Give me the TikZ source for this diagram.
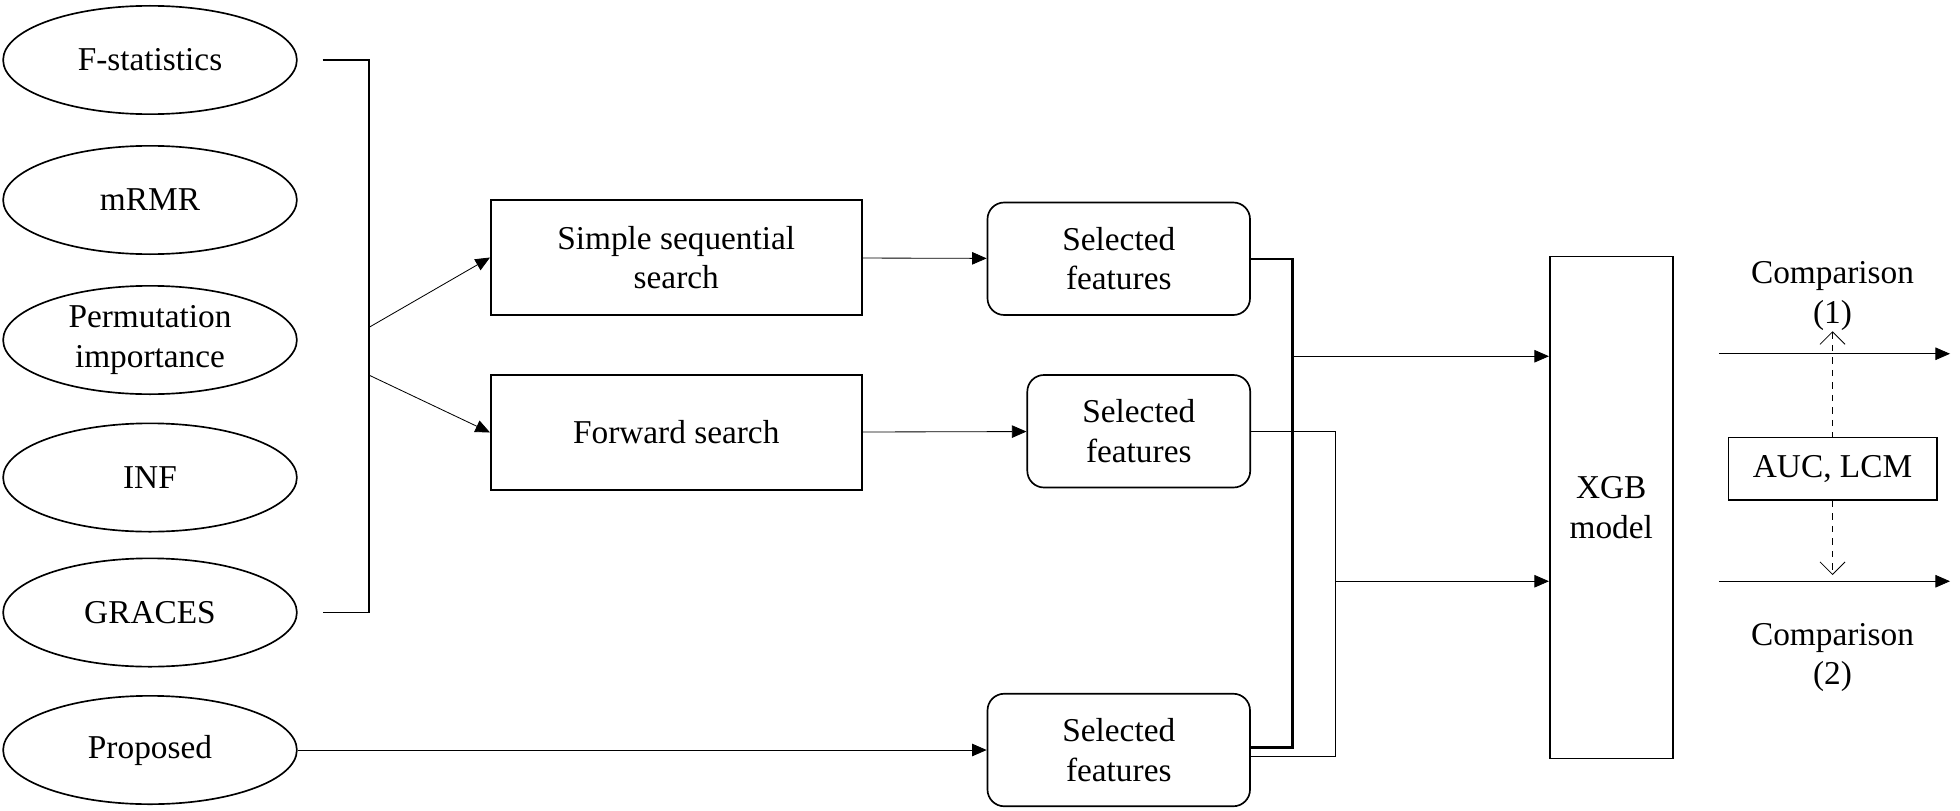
\documentclass[tikz,border=0pt]{standalone}
\usepackage{fontspec}
\setmainfont{Liberation Serif}
\usetikzlibrary{arrows.meta,positioning,shapes.geometric,calc}

\begin{document}
\begin{tikzpicture}[x=0.6pt,y=-0.6pt,font=\fontsize{16}{19}\selectfont]

\tikzstyle{method} = [draw, thick, ellipse, minimum width=141pt, minimum height=52pt, align=center, inner sep=0pt]
\tikzstyle{search} = [draw, thick, rectangle, minimum width=178pt, minimum height=55pt, align=center]
\tikzstyle{selected} = [draw, thick, rectangle, rounded corners=8pt, minimum height=54pt, align=center]
\tikzstyle{link} = [-{Triangle[length=7pt,width=6pt]}]

\useasboundingbox (0,0) rectangle (1568,648);

% feature ranking methods
\node[method] (fstat) at (120,48) {F-statistics};
\node[method] (mrmr) at (120,160) {mRMR};
\node[method] (perm) at (120,272) {Permutation\\importance};
\node[method] (inf) at (120,382) {INF};
\node[method] (graces) at (120,490) {GRACES};
\node[method] (proposed) at (120,600) {Proposed};

% search strategies
\node[search] (sss) at (541,206) {Simple sequential\\search};
\node[search] (fwd) at (541,346) {Forward search};

\node[selected, minimum width=126pt] (sel1) at (895,207) {Selected\\features};
\node[selected, minimum width=107pt] (sel2) at (911,345) {Selected\\features};
\node[selected, minimum width=126pt] (sel3) at (895,600) {Selected\\features};

\node[draw, thick, minimum width=59pt, minimum height=241pt, align=center] (xgb) at (1289,406) {XGB\\model};
\node[draw, thick, minimum width=100pt, minimum height=30pt, fill=white] (auc) at (1466,375) {AUC, LCM};

\coordinate (brtop) at (295,48);
\coordinate (brbot) at (295,490);
\coordinate (brA) at (295,262);
\coordinate (brB) at (295,300);
\coordinate (j1) at (1034,285);
\coordinate (j2) at (1068,465);
\coordinate (out1) at (1560,283);
\coordinate (out2) at (1560,465);

% bracket over the methods
\draw[thick] ($(fstat.east)+(20,0)$) -- (brtop) -- (brbot) -- ($(graces.east)+(20,0)$);
\draw[link] (brA) -- (sss.west);
\draw[link] (brB) -- (fwd.west);
\draw[link] (sss) -- (sel1);
\draw[link] (fwd) -- (sel2);
\draw[link] (proposed) -- (sel3);

% merging into the model
\draw[very thick] (sel1.east) -| (1034,598) -- (sel3.east |- 0,598);
\draw (sel2.east) -| (1068,605) -- (sel3.east |- 0,605);
\draw[link] (j1) -- (j1 -| xgb.west);
\draw[link] (j2) -- (j2 -| xgb.west);

\draw[link] (out1 -| 1375,0) -- (out1);
\draw[link] (out2 -| 1375,0) -- (out2);
\node[align=center] (cmp1) at (1466,237) {Comparison\\(1)};
\node[align=center] (cmp2) at (1466,526) {Comparison\\(2)};

\draw[dashed, {Straight Barb[length=6pt]}-] (1466,265) -- (auc.north);
\draw[dashed, -{Straight Barb[length=6pt]}] (auc.south) -- (1466,460);

\end{tikzpicture}
\end{document}
